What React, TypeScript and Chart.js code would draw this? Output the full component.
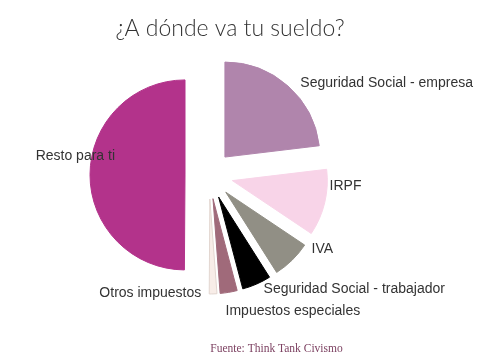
import React, { useEffect, useRef } from 'react';
import { Chart, registerables } from 'chart.js';

Chart.register(...registerables);

const categories = [
  'Seguridad Social - empresa',
  'IRPF',
  'IVA',
  'Seguridad Social - trabajador',
  'Impuestos especiales',
  'Otros impuestos',
  'Resto para ti',
];
const shares = [23.1, 11.3, 6.6, 4.9, 2.9, 1.3, 49.9];
const sliceColors = ['#B085AC', '#F8D4E8', '#918F85', '#000000', '#A06A7A', '#F8EDE8', '#B3338B'];
const sliceBorders = ['#B085AC', '#F8D4E8', '#918F85', '#000000', '#A06A7A', '#E2D6D0', '#B3338B'];
const titleText = '¿A dónde va tu sueldo?';
const sourceText = 'Fuente: Think Tank Civismo';

// layout / style
const W = 483;
const H = 357;
const EXPLODE_PX = 24;
const RADIUS = 95;
const LABEL_GAP = 5;
const labelNudges: [number, number][] = [
  [9, 1], [0, -18], [16, -15], [5, 0], [-4, 14], [-12, -6], [30, -18],
];

// Chart.js enlarges and narrows offset arcs; undo that so exploded slices keep
// their true radius and angular span (Excel-style explosion).
const flatExplode = {
  id: 'flatExplode',
  afterDatasetsUpdate(chart: any) {
    const meta = chart.getDatasetMeta(0);
    const ctrl = meta.controller as any;
    const R = ctrl.outerRadius;
    meta.data.forEach((el: any) => {
      const t = (el.options.offset || 0) / 4;
      const fix = 1 - Math.sin(Math.min(Math.PI, el.circumference || 0));
      const radiusOffset = t * fix;
      el.outerRadius = R - radiusOffset;
      const d = radiusOffset / (Math.PI * R);
      el.startAngle = el.startAngle - d / 2;
      el.endAngle = el.endAngle + d / 2;
    });
  },
};

const textLayer = {
  id: 'textLayer',
  afterDatasetsDraw(chart: any) {
    const ctx = chart.ctx as CanvasRenderingContext2D;
    const meta = chart.getDatasetMeta(0);
    const ctrl = meta.controller as any;
    ctx.save();
    ctx.fillStyle = '#333333';
    ctx.font = '14px "Liberation Sans", Arial, sans-serif';
    ctx.textBaseline = 'middle';
    meta.data.forEach((el: any, i: number) => {
      const mid = (el.startAngle + el.endAngle) / 2;
      const t = (el.options.offset || 0) / 4;
      const r = ctrl.outerRadius + t + LABEL_GAP;
      const n = labelNudges[i] || [0, 0];
      const x = el.x + Math.cos(mid) * r + n[0];
      const y = el.y + Math.sin(mid) * r + n[1];
      ctx.textAlign = Math.cos(mid) > 0.1 ? 'left' : 'right';
      ctx.fillText(categories[i], x, y);
    });
    // title
    ctx.fillStyle = '#333333';
    ctx.font = '300 23px Lato, "DejaVu Sans", sans-serif';
    ctx.textAlign = 'center';
    ctx.textBaseline = 'alphabetic';
    ctx.fillText(titleText, 230, 36);
    // source
    ctx.fillStyle = '#7D4262';
    ctx.font = '11.5px "Liberation Serif", "Times New Roman", serif';
    ctx.fillText(sourceText, 276.5, 352);
    ctx.restore();
  },
};

export default function App() {
  const ref = useRef<HTMLCanvasElement | null>(null);
  useEffect(() => {
    if (!ref.current) return;
    const chart = new Chart(ref.current, {
      type: 'pie',
      data: {
        labels: categories,
        datasets: [
          {
            data: shares,
            backgroundColor: sliceColors,
            borderColor: sliceBorders,
            borderWidth: 1,
            offset: EXPLODE_PX * 4,
            radius: RADIUS,
          } as any,
        ],
      },
      options: {
        animation: false,
        responsive: false,
        devicePixelRatio: 1,
        layout: { padding: { left: 102, right: 167, top: 68, bottom: 75 } },
        plugins: {
          legend: { display: false },
          tooltip: { enabled: false },
          title: { display: false },
        },
      },
      plugins: [flatExplode, textLayer],
    });
    return () => chart.destroy();
  }, []);
  return (
    <div style={{ position: 'absolute', left: 0, top: 0, width: W, height: H, background: '#fff' }}>
      <canvas ref={ref} width={W} height={H} style={{ width: W, height: H }} />
    </div>
  );
}
